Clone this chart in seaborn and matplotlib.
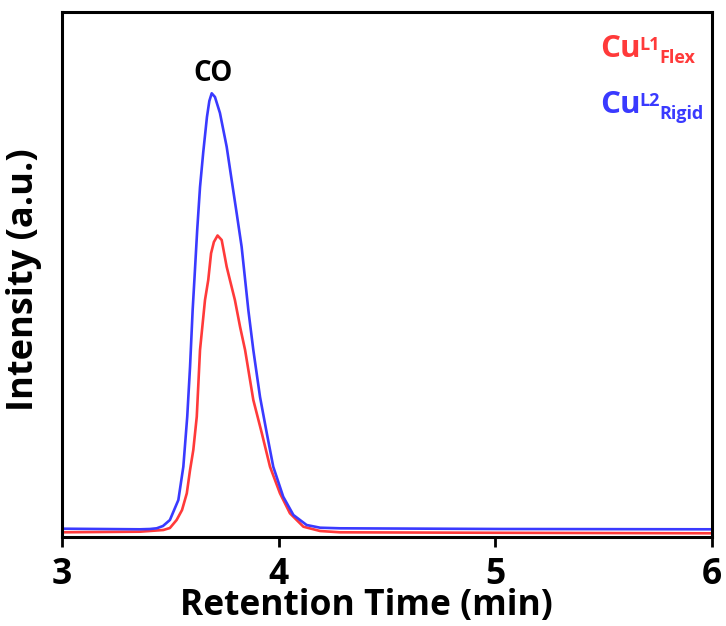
import numpy as np
import pandas as pd
import matplotlib
matplotlib.use("Agg")
import matplotlib.pyplot as plt
import seaborn as sns

sns.set_theme(style="white")
plt.rcParams['font.family'] = ['Open Sans', 'DejaVu Sans']
plt.rcParams['font.weight'] = 'bold'
plt.rcParams['text.color'] = 'black'
plt.rcParams['axes.labelcolor'] = 'black'
plt.rcParams['xtick.color'] = 'black'
plt.rcParams['ytick.color'] = 'black'

# Retention time (min) and intensity (a.u.)
t_flex = [3.000, 3.360, 3.468, 3.498, 3.529, 3.554, 3.576, 3.591, 3.606, 3.622,
          3.637, 3.660, 3.675, 3.688, 3.701, 3.718, 3.737, 3.760, 3.775, 3.798,
          3.822, 3.845, 3.883, 3.922, 3.960, 4.006, 4.052, 4.114, 4.191, 4.283,
          5.022, 6.000]
i_flex = [4.7, 5.3, 7.0, 9.0, 17.0, 27.0, 43.7, 67.0, 87.0, 120.3,
          187.0, 237.0, 257.0, 283.7, 295.0, 301.5, 297.0, 270.3, 257.0, 237.0,
          210.0, 187.0, 137.0, 104.0, 70.3, 43.7, 23.7, 10.3, 6.0, 4.7,
          4.2, 3.7]

t_rigid = [3.000, 3.360, 3.406, 3.437, 3.466, 3.498, 3.537, 3.560, 3.578, 3.591,
           3.603, 3.611, 3.624, 3.637, 3.652, 3.669, 3.680, 3.691, 3.706, 3.729,
           3.760, 3.783, 3.806, 3.829, 3.860, 3.883, 3.914, 3.945, 3.975, 4.021,
           4.068, 4.129, 4.191, 4.283, 5.022, 6.000]
i_rigid = [8.3, 7.7, 8.0, 8.7, 11.0, 17.0, 37.0, 70.3, 120.3, 170.3,
           227.0, 257.0, 307.0, 350.0, 385.0, 420.0, 436.0, 443.7, 440.0, 424.0,
           390.3, 357.0, 324.0, 290.3, 227.0, 187.0, 140.0, 104.0, 70.3, 40.3,
           22.0, 12.0, 9.3, 8.7, 8.0, 7.7]

x_ticks = [3, 4, 5, 6]
peak_label = "CO"
base_label = "Cu"
sup_labels = ["L1", "L2"]
sub_labels = ["Flex", "Rigid"]
colors = ["#FF3A3A", "#3A3AFF"]

fig = plt.figure(figsize=(7.26, 6.26), dpi=100)
ax = fig.add_axes([62/726, 1 - 537/626, 650/726, 525/626])

sns.lineplot(x=t_flex, y=i_flex, ax=ax, color=colors[0], lw=1.9, estimator=None, sort=False)
sns.lineplot(x=t_rigid, y=i_rigid, ax=ax, color=colors[1], lw=1.9, estimator=None, sort=False)

ax.set_xlim(3, 6)
ax.set_ylim(0, 525)
ax.set_xticks(x_ticks)
ax.set_xticklabels([str(v) for v in x_ticks], fontsize=25.5, fontweight='bold')
ax.set_yticks([])
ax.tick_params(axis='x', direction='out', length=7.5, width=2, pad=7, bottom=True)
for s in ax.spines.values():
    s.set_linewidth(2.2)
    s.set_color('black')

ax.set_xlabel("Retention Time (min)", fontsize=25.5, fontweight='bold')
ax.xaxis.set_label_coords(0.468, -0.0975)
ax.set_ylabel("Intensity (a.u.)", fontsize=26, fontweight='bold')
ax.yaxis.set_label_coords(-0.031, 0.49)

ax.text(3.695, 449, peak_label, fontsize=20, fontweight='bold', ha='center', va='bottom')

# legend-like labels: Cu^{Lx}_{...}
base_y = [0.9143, 0.8076]
top_y = [0.955, 0.847]
sub_y = [0.9029, 0.7962]
for k in range(2):
    ax.text(0.8277, base_y[k], base_label, transform=ax.transAxes, color=colors[k],
            fontsize=22.5, fontweight='bold', ha='left', va='baseline')
    ax.text(0.889, top_y[k], sup_labels[k], transform=ax.transAxes, color=colors[k],
            fontsize=13, fontweight='bold', ha='left', va='top')
    ax.text(0.9185, sub_y[k], sub_labels[k], transform=ax.transAxes, color=colors[k],
            fontsize=13, fontweight='bold', ha='left', va='baseline')

fig.savefig("out.png", dpi=100)
